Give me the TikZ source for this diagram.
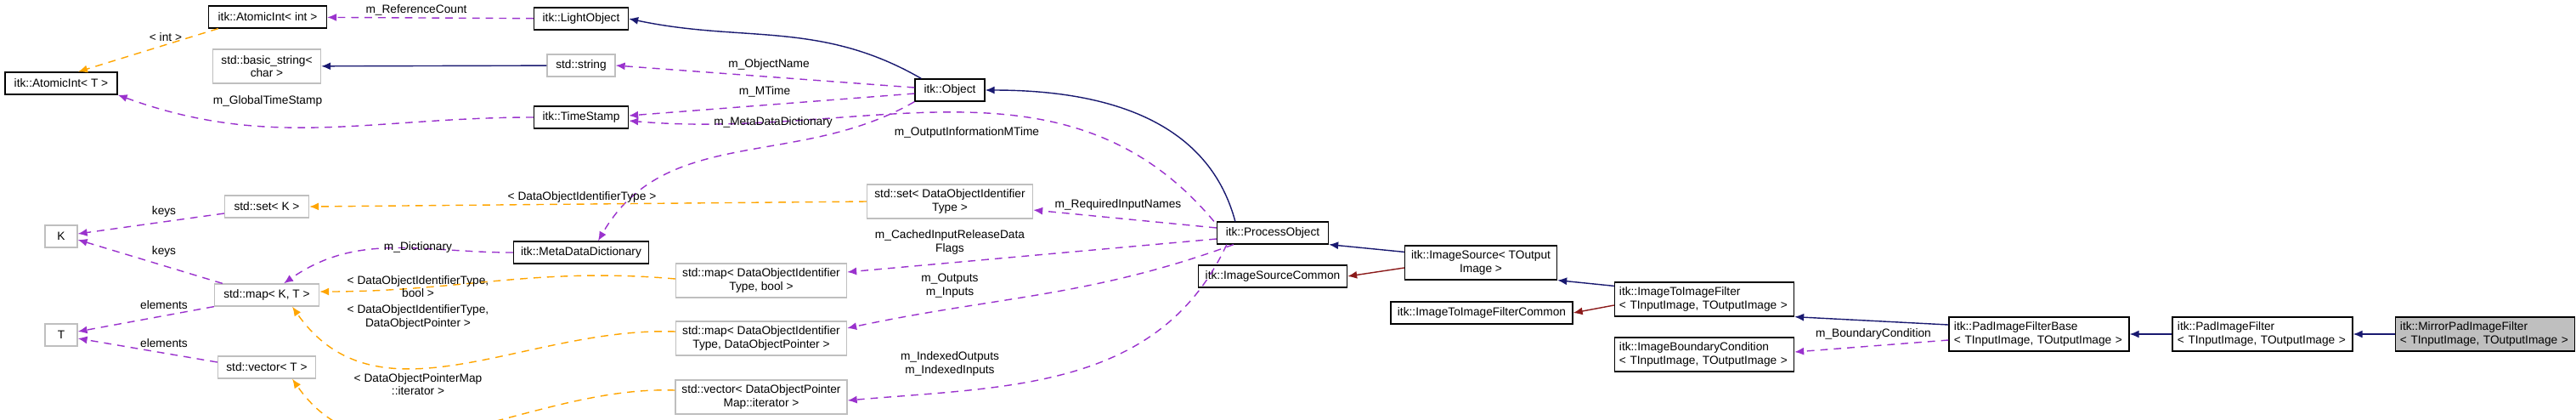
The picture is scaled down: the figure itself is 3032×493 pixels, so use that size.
\documentclass[tikz,border=0pt]{standalone}
\usepackage{fontspec}
\setmainfont{Liberation Sans}
\usetikzlibrary{arrows.meta,positioning}
\definecolor{navy}{HTML}{191970}
\definecolor{darkred}{HTML}{8B1A1A}
\definecolor{orchid}{HTML}{9A32CD}
\definecolor{tmplorange}{HTML}{FFA500}
\definecolor{boxgray}{HTML}{BFBFBF}
\tikzset{>={Latex[length=0.11cm,width=0.09cm]}}
\begin{document}
\begin{tikzpicture}[x=0.01cm, y=-0.01cm, font=\fontsize{3.9}{4.4}\selectfont,
	cls/.style={draw=black, line width=0.35pt, align=center, inner sep=0pt, minimum height=0.26cm},
	ext/.style={cls, draw=boxgray},
	two/.style={minimum height=0.40cm},
	inherit/.style={->, navy, line width=0.4pt},
	usage/.style={->, darkred, line width=0.4pt},
	member/.style={->, orchid, dashed, line width=0.4pt, dash pattern=on 2.5pt off 2pt},
	tmpl/.style={->, tmplorange, dashed, line width=0.4pt, dash pattern=on 2.5pt off 2pt},
	lbl/.style={align=center, inner sep=0pt, text=black}]
	\useasboundingbox (0,0) rectangle (3032,493);
	% classes, left part
	\node[cls, minimum width=1.39cm]      (atomicint)  at (315,20)  {itk::AtomicInt< int >};
	\node[cls, minimum width=1.11cm]      (lightobj)   at (684,22)  {itk::LightObject};
	\node[cls, minimum width=1.32cm]      (atomict)    at (72,98)   {itk::AtomicInt< T >};
	\node[ext, two, minimum width=1.27cm] (basicstr)   at (314,78)  {std::basic\_string<\\char >};
	\node[ext, minimum width=0.80cm]      (stdstring)  at (684,77)  {std::string};
	\node[cls, minimum width=1.11cm]      (timestamp)  at (684,138) {itk::TimeStamp};
	\node[ext, minimum width=0.99cm]      (setk)       at (314,243) {std::set< K >};
	\node[ext, minimum width=0.38cm]      (k)          at (72,278)  {K};
	\node[cls, minimum width=1.59cm]      (metadict)   at (684,297) {itk::MetaDataDictionary};
	\node[ext, minimum width=1.23cm]      (mapkt)      at (314,347) {std::map< K, T >};
	\node[ext, minimum width=0.38cm]      (t)          at (72,394)  {T};
	\node[ext, minimum width=1.15cm]      (vectort)    at (314,432) {std::vector< T >};
	\node[ext, two, minimum width=1.95cm] (setid)      at (1118,237) {std::set< DataObjectIdentifier\\Type >};
	\node[ext, two, minimum width=2.01cm] (mapbool)    at (896,330) {std::map< DataObjectIdentifier\\Type, bool >};
	\node[ext, two, minimum width=2.01cm] (mapptr)     at (896,398) {std::map< DataObjectIdentifier\\Type, DataObjectPointer >};
	\node[ext, two, minimum width=2.02cm] (vectoriter) at (896,467) {std::vector< DataObjectPointer\\Map::iterator >};
	% classes, right part
	\node[cls, minimum width=0.82cm]      (object)     at (1118,106) {itk::Object};
	\node[cls, minimum width=1.31cm]      (procobj)    at (1498,274) {itk::ProcessObject};
	\node[cls, minimum width=1.75cm]      (srccommon)  at (1498,325) {itk::ImageSourceCommon};
	\node[cls, two, minimum width=1.79cm] (imgsource)  at (1743,309) {itk::ImageSource< TOutput\\Image >};
	\node[cls, minimum width=2.14cm]      (filtcommon) at (1744,368) {itk::ImageToImageFilterCommon};
	\node[cls, two, minimum width=2.11cm, align=left, text width=2.0cm] (imgfilter) at (2006,352) {itk::ImageToImageFilter\\< TInputImage, TOutputImage >};
	\node[cls, two, minimum width=2.11cm, align=left, text width=2.0cm] (boundary)  at (2006,417) {itk::ImageBoundaryCondition\\< TInputImage, TOutputImage >};
	\node[cls, two, minimum width=2.12cm, align=left, text width=2.0cm] (padbase)   at (2400,393) {itk::PadImageFilterBase\\< TInputImage, TOutputImage >};
	\node[cls, two, minimum width=2.12cm, align=left, text width=2.0cm] (padfilter) at (2663,393) {itk::PadImageFilter\\< TInputImage, TOutputImage >};
	\node[cls, two, minimum width=2.11cm, align=left, text width=2.0cm, fill=boxgray] (mirror) at (2925,393) {itk::MirrorPadImageFilter\\< TInputImage, TOutputImage >};

	% inheritance and usage
	\draw[inherit] (object.north west) ++(8,0) to[out=150, in=-12] (lightobj.east);
	\draw[inherit] (stdstring) -- (basicstr);
	\draw[inherit] (procobj.north west) ++(22,0) to[out=105, in=0] (object.east);
	\draw[inherit] (imgsource.north west) ++(0,8) -- (procobj.south east);
	\draw[usage]   (imgsource.west) ++(0,6) -- (srccommon.east);
	\draw[inherit] (imgfilter.north west) ++(0,5) -- (imgsource.south east);
	\draw[usage]   (imgfilter.west) ++(0,7) -- (filtcommon.east);
	\draw[inherit] (padbase.west) ++(0,-11) -- (imgfilter.south east);
	\draw[inherit] (padfilter) -- (padbase);
	\draw[inherit] (mirror) -- (padfilter);

	% members
	\draw[member] (lightobj) -- (atomicint) node[lbl] at (490,12) {m\_ReferenceCount};
	\draw[member] (object.west) ++(0,-3) -- (stdstring.east) node[lbl] at (905,76) {m\_ObjectName};
	\draw[member] (object.west) ++(0,4) -- ([shift={(0,-2)}]timestamp.east) node[lbl] at (900,108) {m\_MTime};
	\draw[member] (timestamp.west) to[out=180, in=-20] (atomict.south east) node[lbl] at (315,119) {m\_GlobalTimeStamp};
	\draw[member] (procobj.north west) ++(-3,0) to[out=130, in=-5] ([shift={(0,4)}]timestamp.east) node[lbl] at (1138,156) {m\_OutputInformationMTime};
	\draw[member] (object.south west) to[out=-150, in=60] ([shift={(20,0)}]metadict.north) node[lbl] at (910,144) {m\_MetaDataDictionary};
	\draw[member] (metadict.west) to[out=180, in=35] ([shift={(20,0)}]mapkt.north) node[lbl] at (492,291) {m\_Dictionary};
	\draw[member] (mapkt.north west) ++(10,0) -- ([shift={(0,4)}]k.east) node[lbl] at (193,296) {keys};
	\draw[member] (setk.west) ++(0,8) -- ([shift={(0,-3)}]k.east) node[lbl] at (193,249) {keys};
	\draw[member] (mapkt.south west) -- ([shift={(0,-4)}]t.east) node[lbl] at (193,359) {elements};
	\draw[member] (vectort.west) ++(0,-6) -- ([shift={(0,4)}]t.east) node[lbl] at (193,404) {elements};
	\draw[member] (procobj.west) ++(0,-6) -- ([shift={(0,10)}]setid.east) node[lbl] at (1316,241) {m\_RequiredInputNames};
	\draw[member] (procobj.west) ++(0,7) -- ([shift={(0,-10)}]mapbool.east) node[lbl] at (1118,285) {m\_CachedInputReleaseData\\Flags};
	\draw[member] (procobj.south west) ++(20,0) to[out=-160, in=12] ([shift={(0,-12)}]mapptr.east) node[lbl] at (1118,336) {m\_Outputs\\m\_Inputs};
	\draw[member] (procobj.south west) ++(12,0) to[out=-115, in=5] ([shift={(0,4)}]vectoriter.east) node[lbl] at (1118,428) {m\_IndexedOutputs\\m\_IndexedInputs};
	\draw[member] (padbase.west) ++(0,7) -- ([shift={(0,-3)}]boundary.east) node[lbl] at (2205,393) {m\_BoundaryCondition};

	% template instances
	\draw[tmpl] (atomicint.south west) ++(12,0) -- ([shift={(20,0)}]atomict.north) node[lbl] at (195,44) {< int >};
	\draw[tmpl] (setid.west) -- (setk.east) node[lbl] at (685,232) {< DataObjectIdentifierType >};
	\draw[tmpl] ([shift={(0,-2)}]mapbool.west) to[out=175, in=0] ([shift={(0,-4)}]mapkt.east) node[lbl] at (492,337) {< DataObjectIdentifierType,\\bool >};
	\draw[tmpl] ([shift={(0,-8)}]mapptr.west) to[out=178, in=-55] ([shift={(30,0)}]mapkt.south) node[lbl] at (492,373) {< DataObjectIdentifierType,\\DataObjectPointer >};
	\draw[tmpl] ([shift={(0,-8)}]vectoriter.west) to[out=178, in=-55] ([shift={(30,0)}]vectort.south) node[lbl] at (492,452) {< DataObjectPointerMap\\::iterator >};
\end{tikzpicture}
\end{document}
